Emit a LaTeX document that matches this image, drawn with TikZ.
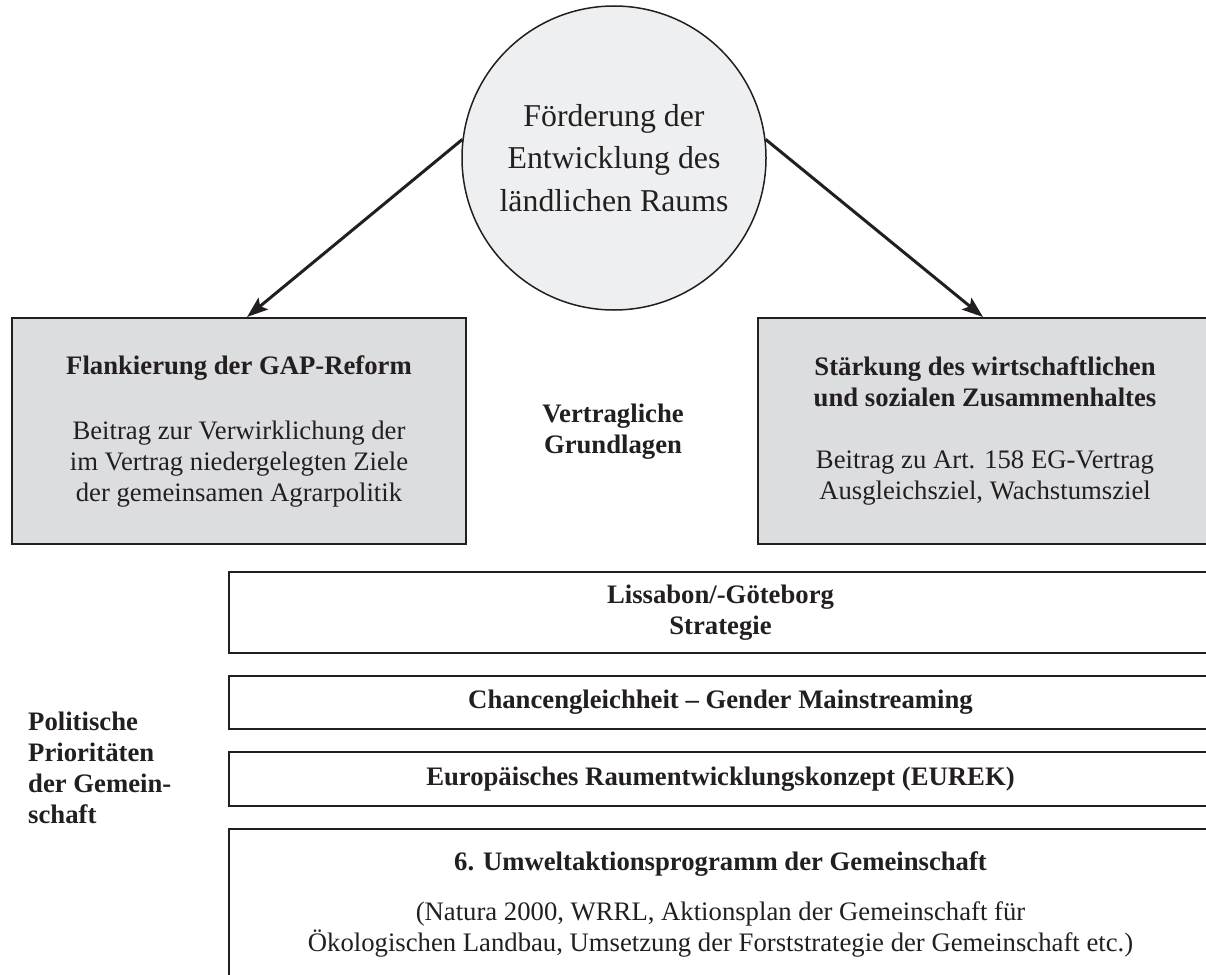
\documentclass[tikz,border=0pt]{standalone}
\usepackage{fontspec}
\setmainfont{Liberation Serif}
\usetikzlibrary{arrows.meta}
\definecolor{ink}{HTML}{231F20}
\definecolor{boxgray}{HTML}{DCDDDF}
\definecolor{circgray}{HTML}{EEEFF0}
\begin{document}
\begin{tikzpicture}[x=1pt,y=-1pt,
  txt/.style={text=ink, font=\fontsize{26.7}{31}\selectfont, align=center, inner sep=0pt},
  graybox/.style={txt, draw=ink, line width=2pt, fill=boxgray, minimum width=454pt, minimum height=226pt},
  prio/.style={txt, draw=ink, line width=2pt, fill=white, minimum width=983pt},
  arr/.style={draw=ink, line width=3pt, -{Stealth[length=21pt,width=15pt,inset=4pt]}}
]
\useasboundingbox (0,0) rectangle (1206,974);
\clip (0,0) rectangle (1206,974);
\fill[white] (0,0) rectangle (1206,974);

\node[circle, draw=ink, line width=1.5pt, fill=circgray, minimum size=304pt, inner sep=0pt,
      text=ink, align=center, font=\fontsize{31.8}{42.5}\selectfont] (circ) at (614,158)
  {Förderung der\\Entwicklung des\\ländlichen Raums};

\node[graybox] (lbox) at (239,431)
  {\textbf{Flankierung der GAP-Reform}\\[34pt]Beitrag zur Verwirklichung der\\im Vertrag niedergelegten Ziele\\der gemeinsamen Agrarpolitik};
\node[graybox] (rbox) at (985,431)
  {\textbf{Stärkung des wirtschaftlichen}\\\textbf{und sozialen Zusammenhaltes}\\[31pt]Beitrag zu Art. 158 EG-Vertrag\\Ausgleichsziel, Wachstumsziel};
\node[txt] (vg) at (613,431.5) {\textbf{Vertragliche}\\\textbf{Grundlagen}};

\node[prio, minimum height=81pt] (lis) at (720.5,612.5) {\textbf{Lissabon/-Göteborg}\\\textbf{Strategie}};
\node[prio, minimum height=53pt] (chan) at (720.5,702.5) {\textbf{Chancengleichheit – Gender Mainstreaming}};
\node[prio, minimum height=54pt] (eurek) at (720.5,779) {\textbf{Europäisches Raumentwicklungskonzept (EUREK)}};
\node[prio, minimum height=151pt] (umw) at (720.5,904.5)
  {\textbf{6. Umweltaktionsprogramm der Gemeinschaft}\\[19pt](Natura 2000, WRRL, Aktionsplan der Gemeinschaft für\\Ökologischen Landbau, Umsetzung der Forststrategie der Gemeinschaft etc.)};

\node[txt, anchor=west, align=left] (pol) at (28,767.5)
  {\textbf{Politische}\\\textbf{Prioritäten}\\\textbf{der Gemein-}\\\textbf{schaft}};

\draw[arr] (circ.173) -- ([xshift=8pt]lbox.north);
\draw[arr] (circ.7) -- ([xshift=-2pt]rbox.north);
\end{tikzpicture}
\end{document}
